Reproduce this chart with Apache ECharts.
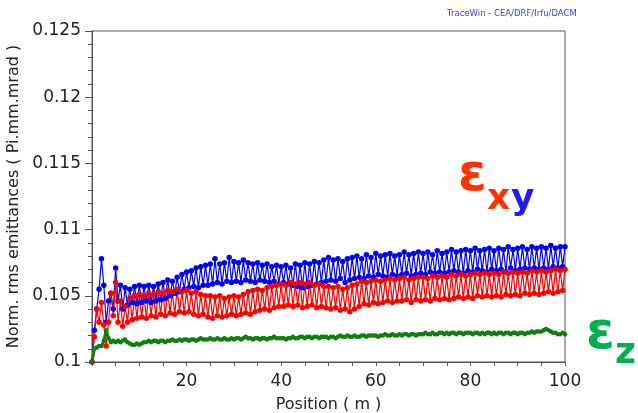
<!DOCTYPE html>
<html>
<head>
<meta charset="utf-8">
<script src="https://cdn.jsdelivr.net/npm/echarts@6/dist/echarts.min.js"></script>
<style>
html,body{margin:0;padding:0;background:#fff;}
#chart{width:638px;height:413px;}
</style>
</head>
<body>
<div id="chart"></div>
<script>
const positions = [
0,0.5,1,1.5,2,2.5,3,3.5,4,4.5,
5,5.5,6,6.5,7,7.5,8,8.5,9,9.5,
10,10.5,11,11.5,12,12.5,13,13.5,14,14.5,
15,15.5,16,16.5,17,17.5,18,18.5,19,19.5,
20,20.5,21,21.5,22,22.5,23,23.5,24,24.5,
25,25.5,26,26.5,27,27.5,28,28.5,29,29.5,
30,30.5,31,31.5,32,32.5,33,33.5,34,34.5,
35,35.5,36,36.5,37,37.5,38,38.5,39,39.5,
40,40.5,41,41.5,42,42.5,43,43.5,44,44.5,
45,45.5,46,46.5,47,47.5,48,48.5,49,49.5,
50,50.5,51,51.5,52,52.5,53,53.5,54,54.5,
55,55.5,56,56.5,57,57.5,58,58.5,59,59.5,
60,60.5,61,61.5,62,62.5,63,63.5,64,64.5,
65,65.5,66,66.5,67,67.5,68,68.5,69,69.5,
70,70.5,71,71.5,72,72.5,73,73.5,74,74.5,
75,75.5,76,76.5,77,77.5,78,78.5,79,79.5,
80,80.5,81,81.5,82,82.5,83,83.5,84,84.5,
85,85.5,86,86.5,87,87.5,88,88.5,89,89.5,
90,90.5,91,91.5,92,92.5,93,93.5,94,94.5,
95,95.5,96,96.5,97,97.5,98,98.5,99,99.5,
100
];
const emitY = [
0.1000,0.1024,0.1040,0.1055,0.1078,0.1058,0.1030,0.1046,0.1052,0.1040,
0.1071,0.1046,0.1058,0.1040,0.1056,0.1043,0.1055,0.1045,0.1057,0.1044,
0.1058,0.1045,0.1057,0.1046,0.1058,0.1045,0.1057,0.1046,0.1059,0.1047,
0.1060,0.1048,0.1062,0.1050,0.1061,0.1052,0.1064,0.1053,0.1066,0.1055,
0.1068,0.1056,0.1069,0.1057,0.1071,0.1056,0.1072,0.1058,0.1073,0.1058,
0.1074,0.1059,0.1078,0.1060,0.1074,0.1059,0.1075,0.1061,0.1079,0.1060,
0.1076,0.1061,0.1075,0.1060,0.1077,0.1062,0.1075,0.1061,0.1074,0.1060,
0.1075,0.1062,0.1073,0.1061,0.1074,0.1060,0.1072,0.1061,0.1073,0.1059,
0.1072,0.1060,0.1073,0.1059,0.1071,0.1058,0.1074,0.1057,0.1073,0.1056,
0.1075,0.1057,0.1074,0.1058,0.1076,0.1059,0.1075,0.1060,0.1077,0.1061,
0.1079,0.1062,0.1077,0.1061,0.1078,0.1063,0.1076,0.1060,0.1078,0.1062,
0.1079,0.1063,0.1080,0.1064,0.1078,0.1063,0.1081,0.1065,0.1079,0.1064,
0.1082,0.1066,0.1080,0.1065,0.1081,0.1064,0.1082,0.1066,0.1080,0.1065,
0.1081,0.1066,0.1083,0.1067,0.1081,0.1065,0.1082,0.1066,0.1083,0.1067,
0.1082,0.1066,0.1083,0.1068,0.1081,0.1067,0.1084,0.1068,0.1082,0.1067,
0.1083,0.1068,0.1085,0.1069,0.1083,0.1068,0.1084,0.1067,0.1085,0.1069,
0.1084,0.1068,0.1086,0.1070,0.1084,0.1069,0.1085,0.1068,0.1086,0.1070,
0.1084,0.1069,0.1086,0.1070,0.1085,0.1068,0.1087,0.1071,0.1085,0.1069,
0.1086,0.1070,0.1087,0.1071,0.1085,0.1070,0.1087,0.1071,0.1086,0.1070,
0.1087,0.1071,0.1086,0.1070,0.1088,0.1072,0.1086,0.1071,0.1087,0.1072,
0.1087
];
const emitX = [
0.1000,0.1019,0.1040,0.1030,0.1045,0.1028,0.1012,0.1030,0.1052,0.1035,
0.1060,0.1030,0.1046,0.1027,0.1042,0.1030,0.1048,0.1032,0.1050,0.1033,
0.1051,0.1034,0.1050,0.1033,0.1052,0.1035,0.1051,0.1034,0.1053,0.1036,
0.1052,0.1035,0.1054,0.1037,0.1053,0.1036,0.1055,0.1038,0.1053,0.1037,
0.1054,0.1038,0.1052,0.1036,0.1053,0.1035,0.1051,0.1036,0.1050,0.1034,
0.1050,0.1033,0.1049,0.1035,0.1050,0.1034,0.1048,0.1035,0.1049,0.1036,
0.1050,0.1035,0.1049,0.1036,0.1051,0.1037,0.1053,0.1036,0.1054,0.1038,
0.1055,0.1039,0.1054,0.1040,0.1056,0.1039,0.1057,0.1041,0.1058,0.1042,
0.1059,0.1042,0.1058,0.1043,0.1060,0.1042,0.1059,0.1043,0.1060,0.1041,
0.1059,0.1042,0.1060,0.1043,0.1058,0.1041,0.1059,0.1042,0.1057,0.1041,
0.1057,0.1040,0.1056,0.1041,0.1057,0.1039,0.1055,0.1040,0.1056,0.1038,
0.1058,0.1040,0.1059,0.1042,0.1061,0.1044,0.1060,0.1043,0.1061,0.1045,
0.1062,0.1044,0.1061,0.1045,0.1062,0.1046,0.1063,0.1045,0.1062,0.1046,
0.1063,0.1046,0.1064,0.1047,0.1062,0.1045,0.1063,0.1047,0.1064,0.1046,
0.1064,0.1047,0.1063,0.1046,0.1065,0.1048,0.1064,0.1047,0.1065,0.1048,
0.1064,0.1047,0.1066,0.1048,0.1065,0.1049,0.1066,0.1048,0.1065,0.1049,
0.1066,0.1048,0.1067,0.1050,0.1066,0.1049,0.1067,0.1050,0.1066,0.1049,
0.1067,0.1050,0.1066,0.1049,0.1068,0.1051,0.1067,0.1050,0.1068,0.1051,
0.1067,0.1050,0.1068,0.1052,0.1067,0.1051,0.1069,0.1052,0.1068,0.1051,
0.1069,0.1052,0.1068,0.1053,0.1069,0.1052,0.1070,0.1053,0.1069,0.1054,
0.1070
];
const emitZ = [
0.1000,0.1010,0.1011,0.1012,0.1012,0.1016,0.1024,0.1018,0.1015,0.1016,
0.1015,0.1016,0.1015,0.1016,0.1017,0.1015,0.1014,0.1013,0.1013,0.1014,
0.1013,0.1014,0.1015,0.1015,0.1016,0.1015,0.1016,0.1016,0.1015,0.1016,
0.1016,0.1015,0.1016,0.1016,0.1017,0.1016,0.1016,0.1017,0.1016,0.1017,
0.1017,0.1016,0.1017,0.1017,0.1016,0.1017,0.1018,0.1017,0.1017,0.1017,
0.1018,0.1017,0.1017,0.1018,0.1017,0.1017,0.1018,0.1017,0.1017,0.1018,
0.1017,0.1018,0.1018,0.1017,0.1018,0.1019,0.1018,0.1018,0.1017,0.1018,
0.1018,0.1017,0.1018,0.1018,0.1017,0.1018,0.1018,0.1019,0.1018,0.1018,
0.1018,0.1018,0.1017,0.1018,0.1018,0.1019,0.1018,0.1018,0.1019,0.1019,
0.1018,0.1019,0.1019,0.1018,0.1019,0.1019,0.1018,0.1019,0.1019,0.1019,
0.1018,0.1019,0.1019,0.1018,0.1019,0.1020,0.1019,0.1019,0.1020,0.1019,
0.1019,0.1020,0.1019,0.1019,0.1020,0.1020,0.1019,0.1020,0.1020,0.1020,
0.1020,0.1019,0.1020,0.1020,0.1021,0.1020,0.1020,0.1021,0.1020,0.1020,
0.1021,0.1020,0.1021,0.1021,0.1020,0.1021,0.1021,0.1020,0.1021,0.1021,
0.1021,0.1022,0.1021,0.1021,0.1022,0.1021,0.1021,0.1022,0.1022,0.1021,
0.1022,0.1021,0.1022,0.1022,0.1021,0.1022,0.1022,0.1021,0.1022,0.1022,
0.1022,0.1021,0.1022,0.1022,0.1021,0.1022,0.1021,0.1022,0.1022,0.1021,
0.1022,0.1021,0.1022,0.1022,0.1021,0.1022,0.1022,0.1021,0.1022,0.1022,
0.1021,0.1022,0.1022,0.1021,0.1022,0.1022,0.1023,0.1022,0.1023,0.1023,
0.1023,0.1024,0.1025,0.1024,0.1023,0.1022,0.1022,0.1021,0.1021,0.1022,
0.1021
];
const xTicks = [20, 40, 60, 80, 100];
const yTicks = ['0.1', '0.105', '0.11', '0.115', '0.12', '0.125'];

function pairs(vals) { return positions.map((p, i) => [p, vals[i]]); }

const chart = echarts.init(document.getElementById('chart'), null, {renderer: 'canvas'});
const axisColor = '#555';
const labelFont = {fontFamily: 'DejaVu Sans', fontSize: 17, color: '#222'};

chart.setOption({
  animation: false,
  backgroundColor: '#fff',
  grid: {left: 92, right: 73, top: 31, bottom: 51, show: true, borderColor: axisColor, borderWidth: 1,
         backgroundColor: '#fff', containLabel: false, outerBoundsMode: 'none'},
  xAxis: {
    type: 'value', min: 0, max: 100, interval: 20,
    name: 'Position ( m )', nameLocation: 'middle', nameGap: 35,
    nameTextStyle: {fontFamily: 'DejaVu Sans', fontSize: 16, color: '#222'},
    axisLine: {show: true, lineStyle: {color: axisColor, width: 1}},
    axisTick: {show: true, inside: false, length: 4, lineStyle: {color: axisColor}},
    minorTick: {show: true, splitNumber: 4, length: 4, lineStyle: {color: axisColor}},
    splitLine: {show: false}, minorSplitLine: {show: false},
    axisLabel: Object.assign({margin: 11, formatter: v => xTicks.indexOf(v) >= 0 ? String(v) : ''}, labelFont)
  },
  yAxis: {
    type: 'value', min: 0.1, max: 0.125, interval: 0.005,
    name: 'Norm. rms emittances ( Pi.mm.mrad )', nameLocation: 'middle', nameGap: 63,
    nameTextStyle: {fontFamily: 'DejaVu Sans', fontSize: 16, color: '#222'},
    axisLine: {show: true, lineStyle: {color: axisColor, width: 1}},
    axisTick: {show: true, inside: false, length: 7, lineStyle: {color: axisColor}},
    minorTick: {show: true, splitNumber: 5, length: 4, lineStyle: {color: axisColor}},
    splitLine: {show: false}, minorSplitLine: {show: false},
    axisLabel: Object.assign({margin: 11, formatter: (v, i) => yTicks[Math.round((v - 0.1) / 0.005)] || ''}, labelFont)
  },
  series: [
    {name: 'εy', type: 'line', data: pairs(emitY), symbol: 'circle', symbolSize: 5.5, showSymbol: true,
     lineStyle: {color: '#0000ff', width: 1.2}, itemStyle: {color: '#0000ff'}},
    {name: 'εx', type: 'line', data: pairs(emitX), symbol: 'circle', symbolSize: 5.5, showSymbol: true,
     lineStyle: {color: '#ff0000', width: 1.2}, itemStyle: {color: '#ff0000'}},
    {name: 'εz', type: 'line', data: pairs(emitZ), symbol: 'circle', symbolSize: 4.5, showSymbol: true,
     lineStyle: {color: '#107f10', width: 3}, itemStyle: {color: '#107f10'}}
  ],
  graphic: [
    {type: 'text', left: 447, top: 9, style: {text: 'TraceWin - CEA/DRF/Irfu/DACM', font: '8.5px "DejaVu Sans"', fill: '#3b3bff'}},
    {type: 'text', left: 458, top: 150, style: {text: 'ε', font: 'bold 52px "DejaVu Sans"', fill: '#ff3300'}},
    {type: 'text', left: 487, top: 182, style: {text: 'x', font: 'bold 36px "DejaVu Sans"', fill: '#ff3300'}},
    {type: 'text', left: 511, top: 182, style: {text: 'y', font: 'bold 36px "DejaVu Sans"', fill: '#1a1aff'}},
    {type: 'text', left: 586, top: 308, style: {text: 'ε', font: 'bold 52px "DejaVu Sans"', fill: '#00b050'}},
    {type: 'text', left: 615, top: 336, style: {text: 'z', font: 'bold 36px "DejaVu Sans"', fill: '#00b050'}}
  ]
});
</script>
</body>
</html>
